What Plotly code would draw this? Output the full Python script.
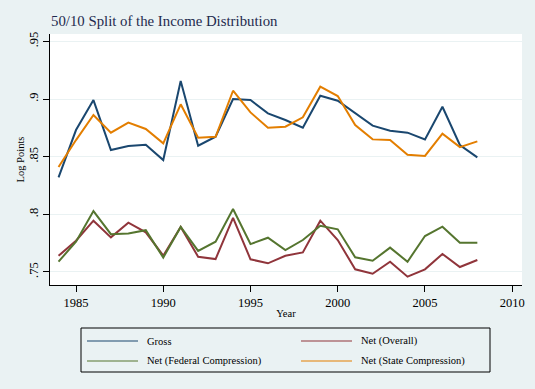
import plotly.graph_objects as go

years = list(range(1984, 2009))
gross = [0.832, 0.8731, 0.8991, 0.8558, 0.8592, 0.8604, 0.8471, 0.9156, 0.8595, 0.8673,
         0.9000, 0.8991, 0.8876, 0.8818, 0.8751, 0.9029, 0.8985, 0.8876, 0.8769, 0.8725,
         0.8708, 0.8650, 0.8933, 0.8601, 0.8494]
net_overall = [0.764, 0.7771, 0.7945, 0.7800, 0.7928, 0.7844, 0.7641, 0.7891, 0.7632, 0.7612,
               0.7970, 0.7610, 0.7575, 0.7641, 0.7670, 0.7945, 0.7777, 0.7523, 0.7485, 0.7589,
               0.7459, 0.7523, 0.7656, 0.7543, 0.7604]
net_federal = [0.759, 0.7762, 0.8028, 0.7828, 0.7834, 0.7862, 0.7625, 0.7891, 0.7683, 0.7762,
               0.8046, 0.7742, 0.7797, 0.7690, 0.7777, 0.7901, 0.7870, 0.7627, 0.7597, 0.7711,
               0.7589, 0.7812, 0.7893, 0.7753, 0.7753]
net_state = [0.841, 0.8644, 0.8861, 0.8708, 0.8795, 0.8740, 0.8616, 0.8954, 0.8664, 0.8673,
             0.9072, 0.8884, 0.8751, 0.8760, 0.8841, 0.9107, 0.9026, 0.8775, 0.8650, 0.8644,
             0.8517, 0.8506, 0.8699, 0.8583, 0.8633]

series_names = ["Gross", "Net (Overall)", "Net (Federal Compression)", "Net (State Compression)"]
series_values = [gross, net_overall, net_federal, net_state]
series_colors = ["#1a476f", "#90353b", "#55752f", "#e37e00"]

x_ticks = [1985, 1990, 1995, 2000, 2005, 2010]
y_ticks = [0.75, 0.8, 0.85, 0.9, 0.95]
y_tick_labels = [".75", ".8", ".85", ".9", ".95"]

BG = "#eaf2f3"
FONT = "Liberation Serif"
W, H = 535, 389
ML, MR, MT, MB = 50, 13, 34, 104
PW, PH = W - ML - MR, H - MT - MB


def px_x(p):
    return (p - ML) / PW


def px_y(p):
    return (H - MB - p) / PH


fig = go.Figure()
for name, vals, col in zip(series_names, series_values, series_colors):
    fig.add_trace(go.Scatter(x=years, y=vals, mode="lines", name=name,
                             line=dict(color=col, width=2), showlegend=False))

# Custom legend box (Stata style)
shapes = [dict(type="rect", xref="paper", yref="paper",
               x0=px_x(81), x1=px_x(490), y0=px_y(372), y1=px_y(328),
               line=dict(color="black", width=1), fillcolor=BG, layer="above")]
annotations = []
legend_pos = [(87, 341), (301, 341), (87, 361), (301, 361)]
for (lx, ly), name, col in zip(legend_pos, series_names, series_colors):
    shapes.append(dict(type="line", xref="paper", yref="paper",
                       x0=px_x(lx), x1=px_x(lx + 51), y0=px_y(ly), y1=px_y(ly),
                       line=dict(color=col, width=1.2), layer="above"))
    annotations.append(dict(text=name, xref="paper", yref="paper",
                            x=px_x(lx + 58), y=px_y(ly), xanchor="left", yanchor="middle",
                            showarrow=False, font=dict(family=FONT, size=10.5, color="black")))

fig.update_layout(
    width=W, height=H,
    paper_bgcolor=BG, plot_bgcolor="white",
    margin=dict(l=ML, r=MR, t=MT, b=MB, autoexpand=False),
    font=dict(family=FONT, color="black", size=12.5),
    title=dict(text="50/10 Split of the Income Distribution",
               font=dict(family=FONT, size=14.8, color="#1e2a4e"),
               x=51/W, xanchor="left", xref="container",
               y=1 - 21/H, yanchor="middle", yref="container"),
    showlegend=False,
    shapes=shapes,
    annotations=annotations,
)
fig.update_xaxes(range=[1983.51, 2010.56], tickvals=x_ticks, ticks="outside",
                 ticklen=6, tickcolor="black", showgrid=False, zeroline=False,
                 showline=True, linecolor="black", linewidth=1,
                 title=dict(text="Year", font=dict(size=10.5), standoff=0),
                 tickfont=dict(size=12.5), automargin=False)
fig.update_yaxes(range=[0.7387, 0.9564], tickvals=y_ticks, ticktext=y_tick_labels,
                 ticks="outside", ticklen=6, tickcolor="black", tickangle=-90,
                 showgrid=True, gridcolor=BG, gridwidth=1, zeroline=False,
                 showline=True, linecolor="black", linewidth=1,
                 title=dict(text="Log Points", font=dict(size=10.5), standoff=0),
                 tickfont=dict(size=12.5), automargin=False)

fig.write_html("out.html", config={"displayModeBar": False},
               post_script="document.body.style.margin='0px';"
                           "document.body.style.background='#eaf2f3';")
